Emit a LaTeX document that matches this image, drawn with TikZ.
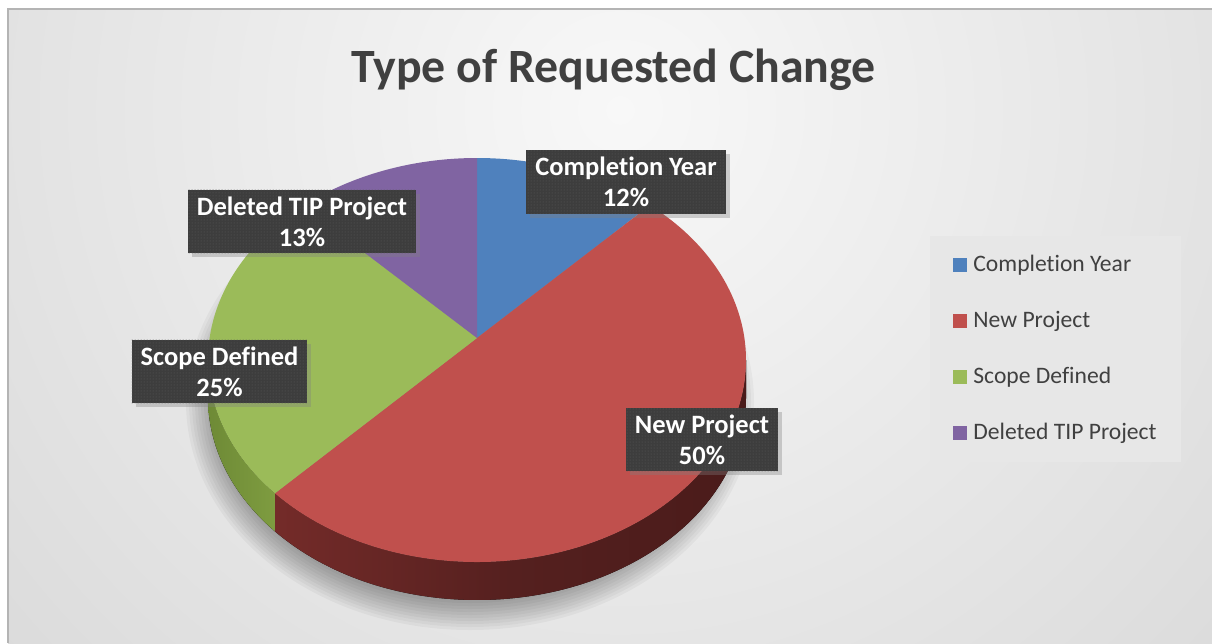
\documentclass[tikz,border=0pt]{standalone}
\usepackage{fontspec}
\setmainfont{Carlito}[Ligatures=NoCommon]
\usetikzlibrary{calc,positioning,patterns,shadows}
\definecolor{cblue}{HTML}{4F81BD}
\definecolor{cred}{HTML}{C0504D}
\definecolor{cgreen}{HTML}{9BBB59}
\definecolor{cpurple}{HTML}{8064A2}
\definecolor{redsideL}{HTML}{742B29}
\definecolor{redsideM}{HTML}{55201F}
\definecolor{redsideR}{HTML}{4A1B1A}
\definecolor{greensideL}{HTML}{6E8A36}
\definecolor{greensideR}{HTML}{7E9C40}
\definecolor{labelbg}{HTML}{3D3D3D}
\definecolor{labeldot}{HTML}{5C5C5C}
\definecolor{inktext}{HTML}{404040}
\definecolor{bglight}{HTML}{F8F8F8}
\definecolor{bgdark}{HTML}{BCBCBC}
\definecolor{framegray}{HTML}{B4B4B4}
\definecolor{legbg}{HTML}{E7E7E7}
\tikzset{datalabel/.style={drop shadow={shadow xshift=4pt,shadow yshift=-4pt,opacity=0.35},
           preaction={fill=labelbg},pattern=dots,pattern color=labeldot,
           text=white,align=center,inner xsep=9pt,inner ysep=7pt,
           font=\bfseries\fontsize{26.5}{31}\selectfont},
         legkey/.style={minimum size=14pt,inner sep=0pt},
         legtext/.style={inner sep=0pt,text=inktext,font=\fontsize{23.6}{28}\selectfont},
         charttitle/.style={text=inktext,inner sep=0pt,font=\bfseries\fontsize{47.8}{56}\selectfont}}

\begin{document}
\begin{tikzpicture}[x=1pt,y=-1pt]
\useasboundingbox (0,0) rectangle (1212,643);
\fill[white] (0,0) rectangle (1212,643);
\begin{scope}
\clip (8,9) rectangle (1212,643);
\shade[inner color=bglight,outer color=bgdark] (620,110) circle (1700);
\end{scope}
\draw[framegray,line width=1.5pt] (8,643) -- (8,9) -- (1212,9);

\node[charttitle,anchor=base] (title) at (613.5,82) {Type of Requested Change};

% soft shadow under the pie
\foreach \i in {0,...,12}
  \fill[black,opacity=0.035] (470,402) ellipse ({248+3*\i} and {192+3*\i});

\coordinate (pc) at (477,360);
\coordinate (apex) at (477,338);

% rim
\fill[left color=redsideL,right color=redsideR,middle color=redsideM] ($(pc)+(0:269 and 202)$)
  arc[start angle=0,end angle=138.7,x radius=269,y radius=202] -- ++(0,38)
  arc[start angle=138.7,end angle=0,x radius=269,y radius=202] -- cycle;
\fill[left color=greensideL,right color=greensideR] ($(pc)+(138.7:269 and 202)$)
  arc[start angle=138.7,end angle=180,x radius=269,y radius=202] -- ++(0,38)
  arc[start angle=180,end angle=138.7,x radius=269,y radius=202] -- cycle;

% top face
\foreach \a/\b/\c in {270/310/cblue,310/498.7/cred,138.7/229.7/cgreen,229.7/270/cpurple}
  \fill[\c] (apex) -- ($(pc)+(\a:269 and 202)$)
    arc[start angle=\a,end angle=\b,x radius=269,y radius=202] -- cycle;

\node[datalabel] (lblyear) at (626,182) {Completion Year\\12\%};
\node[datalabel] (lblnew) at (702,439.5) {New Project\\50\%};
\node[datalabel] (lblscope) at (219.5,371.5) {Scope Defined\\25\%};
\node[datalabel] (lbldel) at (302,221.5) {Deleted TIP Project\\13\%};

\node[fill=legbg,minimum width=251pt,minimum height=226pt,inner sep=0pt] (legend) at (1055.5,349) {};
\foreach \c/\t [count=\i] in {cblue/Completion Year,cred/New Project,cgreen/Scope Defined,cpurple/Deleted TIP Project}{
  \node[legkey,fill=\c] (key\i) at (960,209+56*\i) {};
  \node[legtext,right=6pt of key\i] (leg\i) {\t};
}
\end{tikzpicture}
\end{document}
